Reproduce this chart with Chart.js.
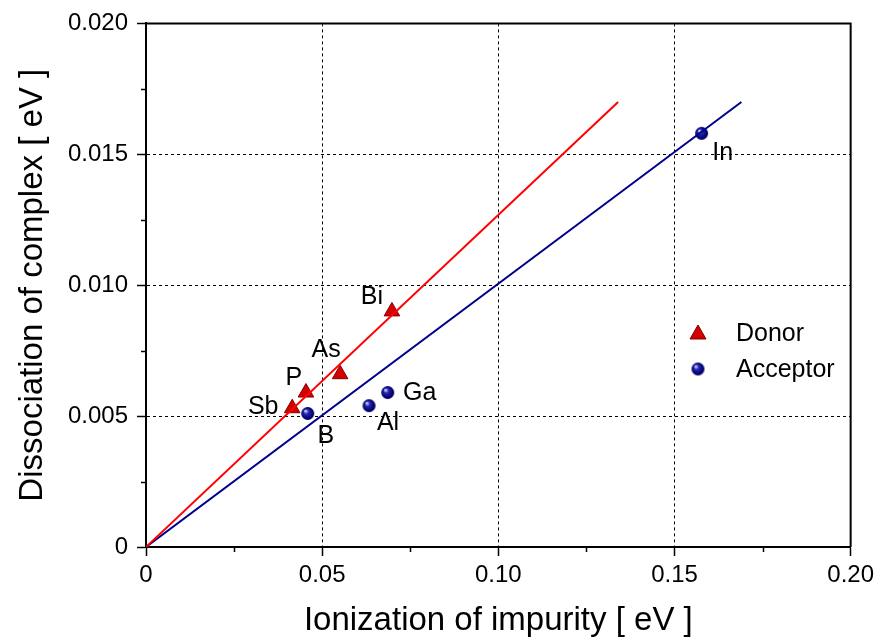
<!DOCTYPE html>
<html>
<head>
<meta charset="utf-8">
<script src="https://cdn.jsdelivr.net/npm/chart.js@4.4.0/dist/chart.umd.min.js"></script>
<style>
  html, body { margin: 0; padding: 0; background: #fff; }
  #wrap { width: 879px; height: 644px; }
</style>
</head>
<body>
<div id="wrap"><canvas id="chart" width="879" height="644"></canvas></div>
<script>
// data
var donorNames = ['Sb', 'P', 'As', 'Bi'];
var donorX = [0.0415, 0.0454, 0.0551, 0.0698];
var donorY = [0.0053, 0.0059, 0.0066, 0.0090];

var acceptorNames = ['B', 'Al', 'Ga', 'In'];
var acceptorX = [0.0459, 0.0633, 0.0686, 0.1577];
var acceptorY = [0.0051, 0.0054, 0.0059, 0.0158];

var donorFitX = [0, 0.134];
var donorFitY = [0, 0.017];
var acceptorFitX = [0, 0.169];
var acceptorFitY = [0, 0.017];

var xTickLabels = ['0', '0.05', '0.10', '0.15', '0.20'];
var yTickLabels = ['0', '0.005', '0.010', '0.015', '0.020'];

// label offsets (px) from each point, same order as the names
var donorLabelOffsets = [[-29, -1], [-12, -14], [-14, -24], [-20, -14]];
var acceptorLabelOffsets = [[18, 23], [19, 17], [32, 1], [21, 20]];

function toPoints(xs, ys) {
  return xs.map(function(x, i) { return { x: x, y: ys[i] }; });
}

// shaded ball for the acceptors
function makeBall(r) {
  var c = document.createElement('canvas');
  c.width = c.height = r * 2 + 2;
  var g = c.getContext('2d');
  var cx = r + 1, cy = r + 1;
  var grad = g.createRadialGradient(cx - r * 0.35, cy - r * 0.4, r * 0.1, cx, cy, r);
  grad.addColorStop(0, '#c8c8ff');
  grad.addColorStop(0.3, '#2a2aa8');
  grad.addColorStop(0.8, '#000080');
  grad.addColorStop(1, '#000040');
  g.fillStyle = grad;
  g.beginPath();
  g.arc(cx, cy, r, 0, Math.PI * 2);
  g.fill();
  return c;
}
var ball = makeBall(6.5);

var isMajor = function(ctx) { return ctx.index % 2 === 0; };

var extras = {
  id: 'extras',
  afterDraw: function(chart) {
    var c = chart.ctx, a = chart.chartArea;
    var xs = chart.scales.x, ys = chart.scales.y;
    c.save();
    // frame top / right
    c.strokeStyle = '#000';
    c.lineWidth = 2;
    c.beginPath();
    c.moveTo(a.left - 1, a.top);
    c.lineTo(a.right, a.top);
    c.lineTo(a.right, a.bottom);
    c.stroke();
    // minor ticks
    c.lineWidth = 1.5;
    c.beginPath();
    xs.ticks.forEach(function(t, i) {
      if (i % 2 === 1) {
        var px = Math.round(xs.getPixelForValue(t.value)) + 0.5;
        c.moveTo(px, a.bottom);
        c.lineTo(px, a.bottom + 5);
      }
    });
    ys.ticks.forEach(function(t, i) {
      if (i % 2 === 1) {
        var py = Math.round(ys.getPixelForValue(t.value)) + 0.5;
        c.moveTo(a.left, py);
        c.lineTo(a.left - 5, py);
      }
    });
    c.stroke();
    // point labels
    c.fillStyle = '#000';
    c.font = '25px Arial, "Liberation Sans", sans-serif';
    c.textAlign = 'center';
    c.textBaseline = 'middle';
    donorNames.forEach(function(n, i) {
      c.fillText(n, xs.getPixelForValue(donorX[i]) + donorLabelOffsets[i][0],
                    ys.getPixelForValue(donorY[i]) + donorLabelOffsets[i][1]);
    });
    acceptorNames.forEach(function(n, i) {
      c.fillText(n, xs.getPixelForValue(acceptorX[i]) + acceptorLabelOffsets[i][0],
                    ys.getPixelForValue(acceptorY[i]) + acceptorLabelOffsets[i][1]);
    });
    // legend
    var lx = 698, ly = 333;
    c.fillStyle = '#d40000';
    c.strokeStyle = '#800000';
    c.lineWidth = 1;
    c.beginPath();
    c.moveTo(lx, ly - 8);
    c.lineTo(lx + 8, ly + 6);
    c.lineTo(lx - 8, ly + 6);
    c.closePath();
    c.fill();
    c.stroke();
    c.drawImage(ball, lx - ball.width / 2, ly + 36 - ball.height / 2);
    c.fillStyle = '#000';
    c.font = '25px Arial, "Liberation Sans", sans-serif';
    c.textAlign = 'left';
    c.fillText('Donor', 736, ly + 1);
    c.fillText('Acceptor', 736, ly + 37);
    c.restore();
  }
};

var ctx = document.getElementById('chart').getContext('2d');
var myChart = new Chart(ctx, {
  type: 'scatter',
  data: {
    datasets: [{
      label: 'Donor fit',
      data: toPoints(donorFitX, donorFitY),
      showLine: true,
      borderColor: '#ff0000',
      borderWidth: 2,
      pointRadius: 0,
      fill: false
    }, {
      label: 'Acceptor fit',
      data: toPoints(acceptorFitX, acceptorFitY),
      showLine: true,
      borderColor: '#00008b',
      borderWidth: 2,
      pointRadius: 0,
      fill: false
    }, {
      label: 'Donor',
      data: toPoints(donorX, donorY),
      pointStyle: 'triangle',
      pointRadius: 9,
      backgroundColor: '#d40000',
      borderColor: '#800000',
      borderWidth: 1
    }, {
      label: 'Acceptor',
      data: toPoints(acceptorX, acceptorY),
      pointStyle: ball,
      pointRadius: 7
    }]
  },
  options: {
    responsive: false,
    animation: false,
    layout: { padding: { left: 0, right: 28, top: 23, bottom: 0 } },
    plugins: {
      legend: { display: false },
      tooltip: { enabled: false }
    },
    scales: {
      x: {
        type: 'linear',
        min: 0,
        max: 0.2,
        afterFit: function(s) { s.height = 97; },
        afterBuildTicks: function(s) {
          s.ticks = [];
          for (var i = 0; i <= 8; i++) s.ticks.push({ value: i * 0.025 });
        },
        ticks: {
          autoSkip: false,
          maxRotation: 0,
          padding: 5,
          color: '#000',
          font: { family: 'Arial, "Liberation Sans", sans-serif', size: 24 },
          callback: function(v, i) { return i % 2 === 0 ? xTickLabels[i / 2] : ''; }
        },
        grid: {
          drawTicks: true,
          tickLength: 9,
          tickWidth: 1.5,
          tickColor: function(c) { return isMajor(c) ? '#000' : 'rgba(0,0,0,0)'; },
          color: function(c) { return (isMajor(c) && c.index > 0 && c.index < 8) ? '#000' : 'rgba(0,0,0,0)'; },
          lineWidth: 1
        },
        border: { display: true, color: '#000', width: 2, dash: [3, 3] },
        title: {
          display: true,
          text: 'Ionization of impurity [ eV ]',
          color: '#000',
          font: { family: 'Arial, "Liberation Sans", sans-serif', size: 33 },
          padding: { top: 0, bottom: 3 }
        }
      },
      y: {
        type: 'linear',
        min: 0,
        max: 0.02,
        afterFit: function(s) { s.width = 146; },
        afterBuildTicks: function(s) {
          s.ticks = [];
          for (var i = 0; i <= 8; i++) s.ticks.push({ value: i * 0.0025 });
        },
        ticks: {
          autoSkip: false,
          padding: 9,
          color: '#000',
          font: { family: 'Arial, "Liberation Sans", sans-serif', size: 24 },
          callback: function(v, i) { return i % 2 === 0 ? yTickLabels[i / 2] : ''; }
        },
        grid: {
          drawTicks: true,
          tickLength: 9,
          tickWidth: 1.5,
          tickColor: function(c) { return isMajor(c) ? '#000' : 'rgba(0,0,0,0)'; },
          color: function(c) { return (isMajor(c) && c.index > 0 && c.index < 8) ? '#000' : 'rgba(0,0,0,0)'; },
          lineWidth: 1
        },
        border: { display: true, color: '#000', width: 2, dash: [3, 3] },
        title: {
          display: true,
          text: 'Dissociation of complex [ eV ]',
          color: '#000',
          font: { family: 'Arial, "Liberation Sans", sans-serif', size: 33 },
          padding: { top: 13, bottom: 0 }
        }
      }
    }
  },
  plugins: [extras]
});
</script>
</body>
</html>
